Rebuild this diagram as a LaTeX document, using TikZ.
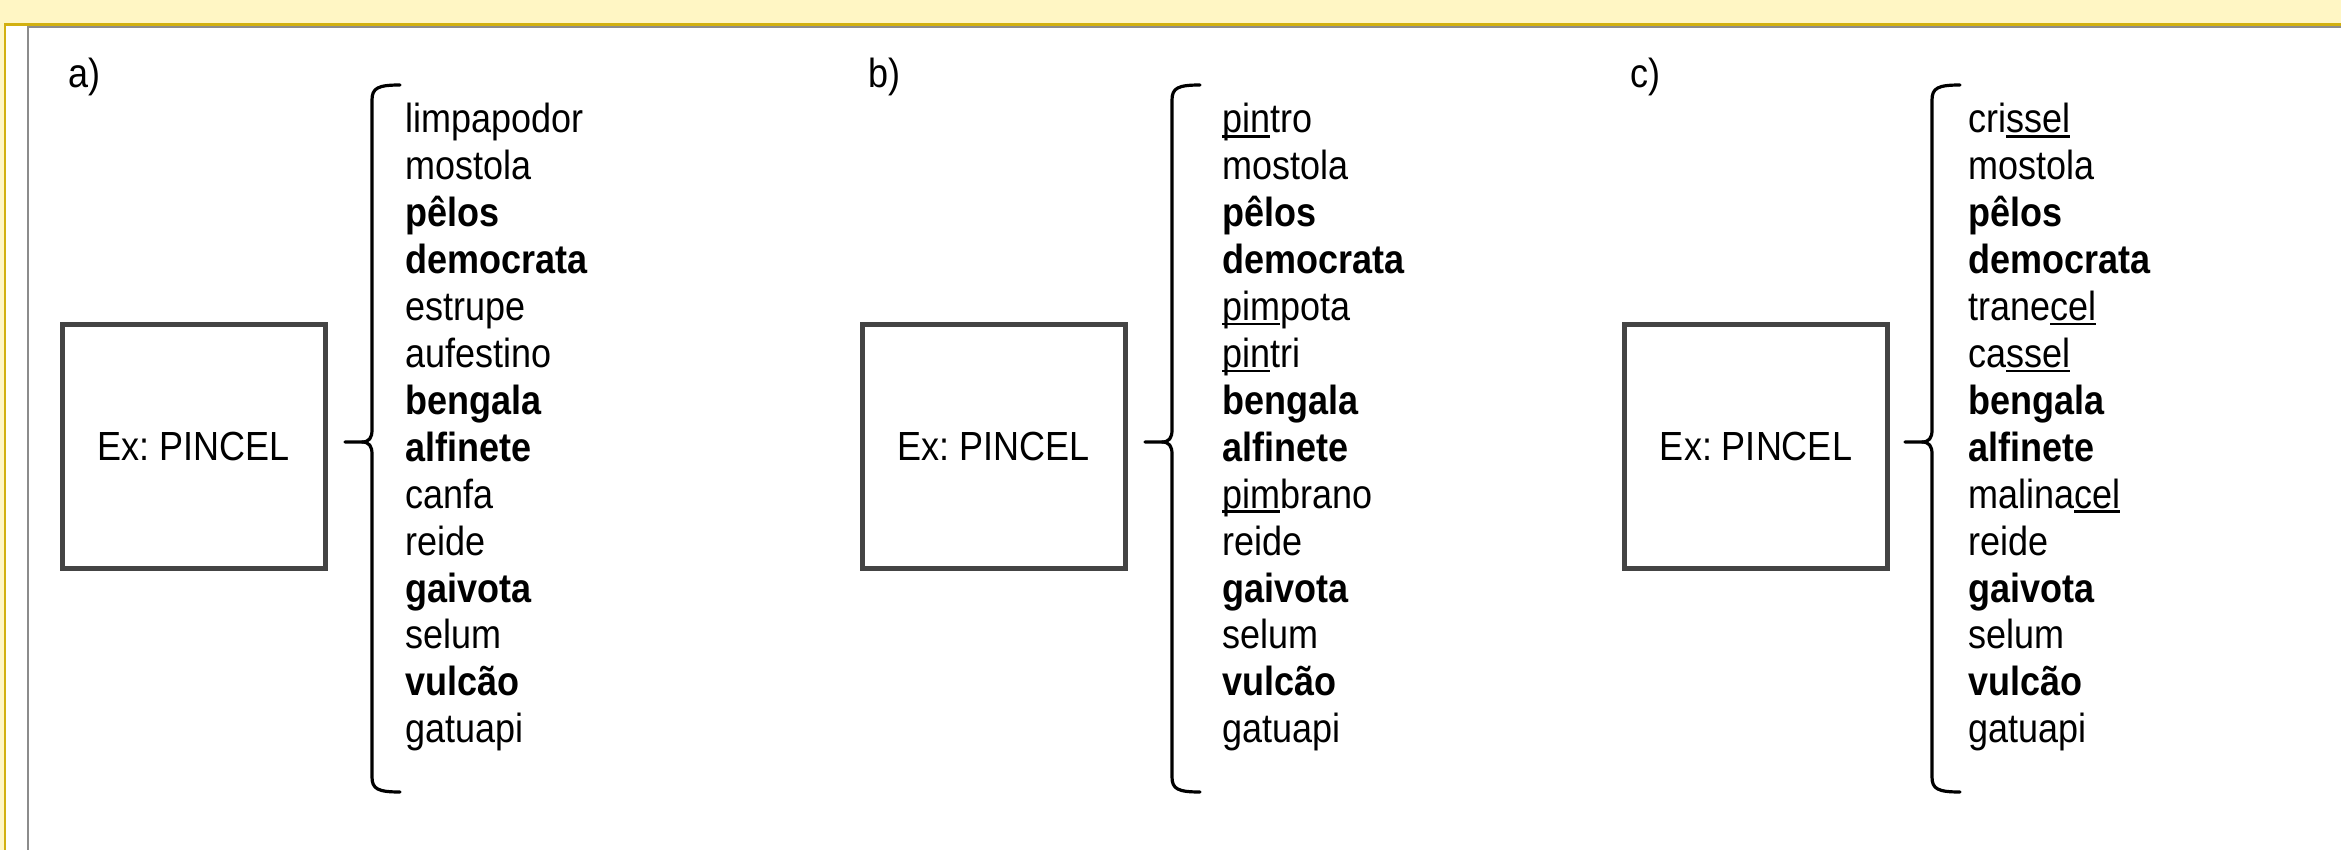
\documentclass[tikz,border=0pt]{standalone}
\usepackage{fontspec}
\setmainfont{Liberation Sans}
\usepackage{graphicx}
\frenchspacing

\definecolor{paper}{HTML}{FFF6C4}
\definecolor{goldline}{HTML}{D2B010}
\definecolor{frameline}{HTML}{8C8C8C}
\definecolor{boxline}{HTML}{444444}

% glyphs are set slightly taller than wide
\newcommand\tall[1]{\scalebox{1}[1.13]{#1}}
% underline of a syllable, just under the baseline
\newcommand\usl[1]{\setbox0\hbox{#1}\rlap{\rule[-4.2pt]{\wd0}{2.2pt}}\box0}

% brace: spine at x = #1, top and bottom hooks, tip pointing left at the box
\newcommand\drawbrace[2]{%
  \coordinate (#2tip) at (#1-27,442);
  \coordinate (#2top) at (#1+28,85);
  \coordinate (#2bot) at (#1+28,792);
  \draw[brc] (#2top) .. controls (#1+6,85) and (#1,88) .. (#1,100)
     -- (#1,430) .. controls (#1,438) and (#1-3,442) .. (#1-10,442) -- (#2tip);
  \draw[brc] (#1-10,442) .. controls (#1-3,442) and (#1,446) .. (#1,454)
     -- (#1,777) .. controls (#1,789) and (#1+6,792) .. (#2bot);
}

\begin{document}
\begin{tikzpicture}[x=1pt,y=-1pt,
  txt/.style={inner sep=0pt, font=\fontsize{36}{41}\selectfont},
  word/.style={txt, anchor=base west},
  label/.style={txt, anchor=base west},
  pbox/.style={draw=boxline, line width=5pt, fill=white, minimum width=263pt,
               minimum height=244pt, inner sep=0pt, font=\fontsize{36}{41}\selectfont},
  brc/.style={draw=black, line width=3.2pt, line cap=round, line join=round}]

  % page and frame
  \fill[paper] (0,0) rectangle (2341,850);
  \useasboundingbox (0,0) rectangle (2341,850);
  \fill[white] (5,24.5) rectangle (2341,850);
  \draw[goldline, line width=2.6pt] (5,850) -- (5,24.5) -- (2341,24.5);
  \draw[frameline, line width=2pt] (27.5,850) -- (27.5,27.5) -- (2341,27.5);

  % panel labels
  \node[label] (la) at (68,88) {\tall{a)}};
  \node[label] (lb) at (868,88) {\tall{b)}};
  \node[label] (lc) at (1630,88) {\tall{c)}};

  % example boxes
  \node[pbox] (ba) at (193.5,446) {\tall{Ex: PINCEL}};
  \node[pbox] (bb) at (993.5,446) {\tall{Ex: PINCEL}};
  \node[pbox] (bc) at (1756,446) {\tall{Ex: PINCEL}};

  % braces
  \drawbrace{372}{ra}
  \drawbrace{1172}{rb}
  \drawbrace{1932}{rc}

  % word lists
  \foreach \w [count=\i from 0] in {limpapodor, mostola, {\textbf{pêlos}},
      {\textbf{democrata}}, estrupe, aufestino, {\textbf{bengala}},
      {\textbf{alfinete}}, canfa, reide, {\textbf{gaivota}}, selum,
      {\textbf{vulcão}}, gatuapi}
    \node[word] (wa\i) at (405,{133+\i*46.9}) {\tall{\w}};

  \foreach \w [count=\i from 0] in {{\usl{pin}tro}, mostola, {\textbf{pêlos}},
      {\textbf{democrata}}, {\usl{pim}pota}, {\usl{pin}tri}, {\textbf{bengala}},
      {\textbf{alfinete}}, {\usl{pim}brano}, reide, {\textbf{gaivota}}, selum,
      {\textbf{vulcão}}, gatuapi}
    \node[word] (wb\i) at (1222,{133+\i*46.9}) {\tall{\w}};

  \foreach \w [count=\i from 0] in {{cri\usl{ssel}}, mostola, {\textbf{pêlos}},
      {\textbf{democrata}}, {trane\usl{cel}}, {ca\usl{ssel}}, {\textbf{bengala}},
      {\textbf{alfinete}}, {malina\usl{cel}}, reide, {\textbf{gaivota}}, selum,
      {\textbf{vulcão}}, gatuapi}
    \node[word] (wc\i) at (1968,{133+\i*46.9}) {\tall{\w}};
\end{tikzpicture}
\end{document}
